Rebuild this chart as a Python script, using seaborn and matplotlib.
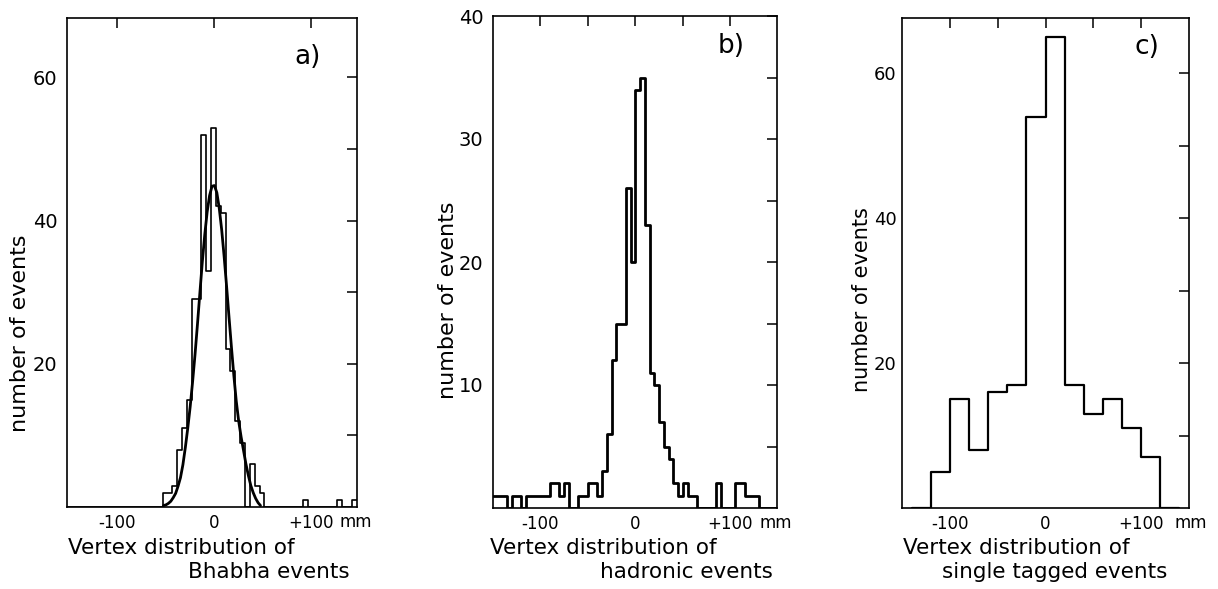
import numpy as np
import pandas as pd
import matplotlib.pyplot as plt
import seaborn as sns

# a) Bhabha events: 5 mm bins, listed by bin centre (empty bins left out)
bhabha_centres = [-51, -46, -41, -36, -31, -26, -21, -16, -11, -6, -1, 4, 9, 14, 19,
                  24, 29, 34, 39, 44, 49, 94, 129, 144, 149]
bhabha_counts = [2, 2, 3, 8, 11, 15, 29, 29, 52, 33, 53, 42, 41, 22, 19,
                 12, 9, 0, 6, 3, 2, 1, 1, 1, 1]

# fitted gaussian drawn over a)
fit_x = [-52.5, -50, -47.5, -45, -42.5, -40, -37.5, -35, -32.5, -30, -27.5, -25, -22.5,
         -20, -17.5, -15, -12.5, -10, -7.5, -5, -2.5, 0, 2.5, 5, 7.5, 10, 12.5, 15,
         17.5, 20, 22.5, 25, 27.5, 30, 32.5, 35, 37.5, 40, 42.5, 45, 47.5]
fit_y = [0.2, 0.3, 0.5, 0.8, 1.3, 1.9, 2.9, 4.1, 5.9, 8.3, 11.0, 14.0, 17.5,
         21.3, 25.5, 29.9, 34.2, 38.0, 41.2, 43.5, 44.8, 44.9, 43.9, 41.7, 38.7, 35.0, 30.9, 26.6,
         22.4, 18.4, 14.8, 12.0, 9.8, 7.9, 6.0, 4.4, 3.0, 2.0, 1.2, 0.6, 0.2]

# b) hadronic events: 5 mm bins from -150 mm to +150 mm
hadronic_counts = [1, 1, 1, 0, 1, 1, 0, 1, 1, 1,
                   1, 1, 2, 2, 1, 2, 0, 0, 1, 1,
                   2, 2, 1, 3, 6, 12, 15, 15, 26, 20,
                   34, 35, 23, 11, 10, 7, 5, 4, 2, 1,
                   2, 1, 1, 0, 0, 0, 0, 2, 0, 0,
                   0, 2, 2, 1, 1, 1, 0, 0, 0, 0]

# c) single tagged events: 20 mm bins from -140 mm to +140 mm
tagged_counts = [0, 5, 15, 8, 16, 17, 54, 65, 17, 13, 15, 11, 7, 0]

sns.set_style("white", {"text.color": "black", "xtick.color": "black",
                        "ytick.color": "black", "axes.labelcolor": "black"})
plt.rcParams['font.family'] = ['DejaVu Sans']

W, H = 1218, 589
fig = plt.figure(figsize=(W / 100, H / 100), dpi=100)


def box(l, r, t, b):
    return [l / W, 1 - b / H, (r - l) / W, (b - t) / H]


ax_a = fig.add_axes(box(67, 357, 18, 507))
ax_b = fig.add_axes(box(493, 777, 16, 508))
ax_c = fig.add_axes(box(902, 1189, 18, 508))

# a)
edges_a = list(np.arange(-153.5, 152, 5))
df_a = pd.DataFrame({'vertex': bhabha_centres, 'n': bhabha_counts})
sns.histplot(data=df_a, x='vertex', weights='n', bins=edges_a, element='step',
             fill=False, color='black', linewidth=1.2, ax=ax_a)
df_fit = pd.DataFrame({'vertex': fit_x, 'n': fit_y})
sns.lineplot(data=df_fit, x='vertex', y='n', color='black', linewidth=2.0, ax=ax_a)
ax_a.set_xlim(-152, 147)
ax_a.set_ylim(0, 68.3)

# b)
edges_b = np.arange(-150, 151, 5)
df_b = pd.DataFrame({'vertex': edges_b[:-1] + 2.5, 'n': hadronic_counts})
sns.histplot(data=df_b, x='vertex', weights='n', bins=list(edges_b), element='step',
             fill=False, color='black', linewidth=2.0, ax=ax_b)
ax_b.set_xlim(-150, 149)
ax_b.set_ylim(0, 40)

# c)
edges_c = np.arange(-140, 141, 20)
df_c = pd.DataFrame({'vertex': edges_c[:-1] + 10, 'n': tagged_counts})
sns.histplot(data=df_c, x='vertex', weights='n', bins=list(edges_c), element='step',
             fill=False, color='black', linewidth=1.6, ax=ax_c)
ax_c.set_xlim(-151, 151)
ax_c.set_ylim(0, 67.6)

ax_a.set_yticks([10, 20, 30, 40, 50, 60])
ax_a.set_yticklabels(['', '20', '', '40', '', '60'])
ax_a.set_xticks([-100, 0, 100])
ax_a.set_xticklabels(['-100', '0', '+100'])

ax_b.set_yticks([5, 10, 15, 20, 25, 30, 35, 40])
ax_b.set_yticklabels(['', '10', '', '20', '', '30', '', '40'])
ax_b.set_xticks([-100, -50, 0, 50, 100])
ax_b.set_xticklabels(['-100', '', '0', '', '+100'])

ax_c.set_yticks([10, 20, 30, 40, 50, 60])
ax_c.set_yticklabels(['', '20', '', '40', '', '60'])
ax_c.set_xticks([-100, -50, 0, 50, 100])
ax_c.set_xticklabels(['-100', '', '0', '', '+100'])

mm_pos = {ax_a: 129, ax_b: 131, ax_c: 136}
panel = {ax_a: ('a)', 0.83, 0.92), ax_b: ('b)', 0.84, 0.94), ax_c: ('c)', 0.854, 0.94)}
for ax in (ax_a, ax_b, ax_c):
    ax.set_xlabel('')
    ax.set_ylabel('')
    for s in ax.spines.values():
        s.set_visible(True)
        s.set_linewidth(1.2)
        s.set_color('black')
    ax.tick_params(direction='in', length=7, width=1.1, top=True, right=True,
                   color='black', labelcolor='black')
    ax.tick_params(axis='x', labelsize=12, pad=5)
    ax.tick_params(axis='y', labelsize=14, pad=7)
    ax.text(mm_pos[ax], -0.012, 'mm', transform=ax.get_xaxis_transform(),
            ha='left', va='top', fontsize=12, color='black')
    lab, px, py = panel[ax]
    ax.text(px, py, lab, transform=ax.transAxes, ha='center', va='center',
            fontsize=19, color='black')

# c) has its tick numbers tight against the frame
ax_c.tick_params(axis='y', labelsize=13, pad=4)

# axis captions
cap = dict(color='black')
fig.text(20 / W, 1 - 333 / H, 'number of events', rotation=90, ha='center', va='center', fontsize=16, **cap)
fig.text(448 / W, 1 - 300 / H, 'number of events', rotation=90, ha='center', va='center', fontsize=16, **cap)
fig.text(862 / W, 1 - 300 / H, 'number of events', rotation=90, ha='center', va='center', fontsize=15, **cap)

fig.text(68 / W, 1 - 554 / H, 'Vertex distribution of', ha='left', va='baseline', fontsize=15.5, **cap)
fig.text(188 / W, 1 - 578 / H, 'Bhabha events', ha='left', va='baseline', fontsize=15.5, **cap)
fig.text(490 / W, 1 - 554 / H, 'Vertex distribution of', ha='left', va='baseline', fontsize=15.5, **cap)
fig.text(600 / W, 1 - 578 / H, 'hadronic events', ha='left', va='baseline', fontsize=15.5, **cap)
fig.text(903 / W, 1 - 554 / H, 'Vertex distribution of', ha='left', va='baseline', fontsize=15.5, **cap)
fig.text(942 / W, 1 - 578 / H, 'single tagged events', ha='left', va='baseline', fontsize=15.5, **cap)

fig.savefig('out.png', dpi=100, facecolor='white')
